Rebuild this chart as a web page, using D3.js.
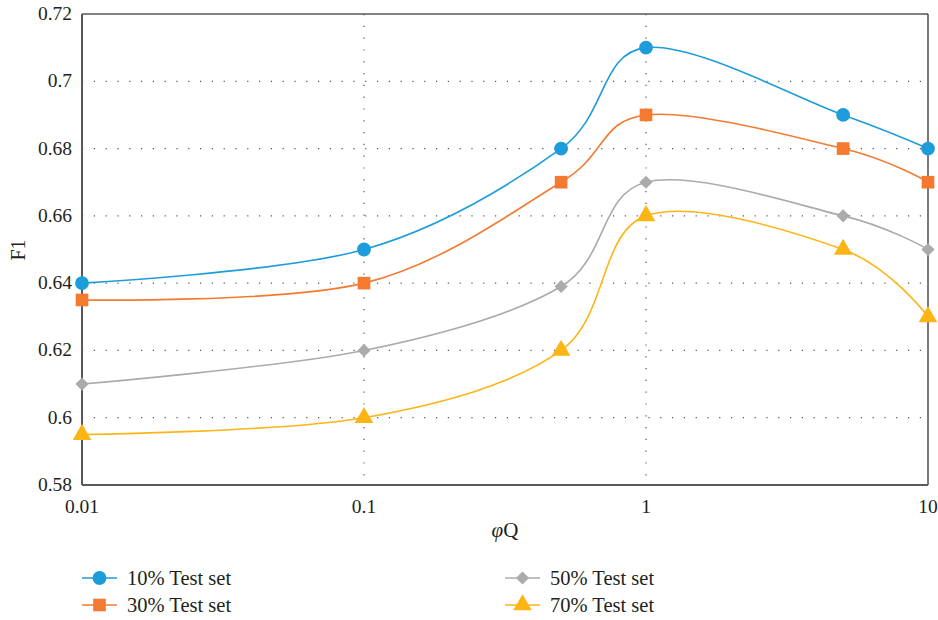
<!DOCTYPE html>
<html lang="en">
<head>
  <meta charset="UTF-8">
  <title>F1 vs φQ</title>
  <script src="https://d3js.org/d3.v7.min.js"></script>
  <style>
    body { margin: 0; background: #fff; }
    text { font-family: "Liberation Serif", "DejaVu Serif", serif; fill: #231f20; }
  </style>
</head>
<body>
  <svg id="chart" width="938" height="620"></svg>

  <script>
    // data
    const xValues = [0.01, 0.1, 0.5, 1, 5, 10];
    const test10 = [0.64, 0.65, 0.68, 0.71, 0.69, 0.68];
    const test30 = [0.635, 0.64, 0.67, 0.69, 0.68, 0.67];
    const test50 = [0.61, 0.62, 0.639, 0.67, 0.66, 0.65];
    const test70 = [0.595, 0.6, 0.62, 0.66, 0.65, 0.63];
    const seriesNames = ["10% Test set", "30% Test set", "50% Test set", "70% Test set"];
    const xTicks = [0.01, 0.1, 1, 10];
    const yTicks = [0.58, 0.6, 0.62, 0.64, 0.66, 0.68, 0.7, 0.72];

    const series = [
      { name: seriesNames[0], values: test10, color: "#1c9cdb", shape: "circle" },
      { name: seriesNames[1], values: test30, color: "#f47a30", shape: "square" },
      { name: seriesNames[2], values: test50, color: "#aaabad", shape: "diamond" },
      { name: seriesNames[3], values: test70, color: "#fdb515", shape: "triangle" }
    ];

    const svg = d3.select("#chart");
    const pLeft = 82, pRight = 928, pTop = 14, pBottom = 485;

    const x = d3.scaleLog().domain([0.01, 10]).range([pLeft, pRight]);
    const y = d3.scaleLinear().domain([0.58, 0.72]).range([pBottom, pTop]);

    // dotted grid
    const grid = svg.append("g");
    grid.selectAll("line.h")
      .data(yTicks.slice(1, -1))
      .join("line")
        .attr("class", "h")
        .attr("x1", pLeft).attr("x2", pRight)
        .attr("y1", d => y(d)).attr("y2", d => y(d))
        .attr("stroke", "#555")
        .attr("stroke-width", 1.2)
        .attr("stroke-dasharray", "1.2,10.6");
    grid.selectAll("line.v")
      .data(xTicks.slice(1, -1))
      .join("line")
        .attr("class", "v")
        .attr("x1", d => x(d)).attr("x2", d => x(d))
        .attr("y1", pTop).attr("y2", pBottom)
        .attr("stroke", "#555")
        .attr("stroke-width", 1.2)
        .attr("stroke-dasharray", "1.2,10.6");

    // frame
    svg.append("line").attr("x1", pLeft).attr("x2", pRight).attr("y1", pTop).attr("y2", pTop)
      .attr("stroke", "#595959").attr("stroke-width", 1.5);
    svg.append("line").attr("x1", pRight).attr("x2", pRight).attr("y1", pTop).attr("y2", pBottom)
      .attr("stroke", "#222").attr("stroke-width", 1.2);
    svg.append("line").attr("x1", pLeft).attr("x2", pLeft).attr("y1", pTop).attr("y2", pBottom)
      .attr("stroke", "#595959").attr("stroke-width", 2);
    svg.append("line").attr("x1", pLeft).attr("x2", pRight).attr("y1", pBottom).attr("y2", pBottom)
      .attr("stroke", "#595959").attr("stroke-width", 2);

    // tick labels
    svg.append("g").selectAll("text")
      .data(yTicks)
      .join("text")
        .attr("x", 72)
        .attr("y", d => y(d) + 6)
        .attr("text-anchor", "end")
        .style("font-size", "19.5px")
        .text(d => d3.format("")(d));
    svg.append("g").selectAll("text")
      .data(xTicks)
      .join("text")
        .attr("x", d => x(d))
        .attr("y", 513)
        .attr("text-anchor", "middle")
        .style("font-size", "19.5px")
        .text(d => d3.format("")(d));

    // axis titles
    const xt = svg.append("text")
      .attr("x", 505).attr("y", 537)
      .attr("text-anchor", "middle")
      .style("font-size", "21px");
    xt.append("tspan").style("font-style", "italic").text("φ");
    xt.append("tspan").text("Q");

    svg.append("text")
      .attr("transform", "translate(25,250) rotate(-90)")
      .attr("text-anchor", "middle")
      .style("font-size", "20px")
      .text("F1");

    // markers
    const symbols = {
      circle: d3.symbol().type(d3.symbolCircle).size(150),
      square: d3.symbol().type(d3.symbolSquare).size(160),
      diamond: d3.symbol().type(d3.symbolDiamond2).size(110),
      triangle: d3.symbol().type(d3.symbolTriangle).size(150)
    };

    const line = d3.line()
      .x((d, i) => x(xValues[i]))
      .y(d => y(d))
      .curve(d3.curveCardinal.tension(0));

    const sg = svg.append("g").selectAll("g")
      .data(series)
      .join("g");

    sg.append("path")
      .attr("d", d => line(d.values))
      .attr("fill", "none")
      .attr("stroke", d => d.color)
      .attr("stroke-width", 1.6);

    sg.each(function(s) {
      d3.select(this).selectAll("path.m")
        .data(s.values)
        .join("path")
          .attr("class", "m")
          .attr("transform", (d, i) => `translate(${x(xValues[i])},${y(d)})`)
          .attr("d", symbols[s.shape])
          .attr("fill", s.color);
    });

    // legend
    const legendPos = [[82, 578], [82, 605], [505, 578], [505, 605]];
    const lg = svg.append("g").selectAll("g")
      .data(series)
      .join("g")
        .attr("transform", (d, i) => `translate(${legendPos[i][0]},${legendPos[i][1]})`);
    lg.append("line")
      .attr("x1", 0).attr("x2", 35)
      .attr("stroke", d => d.color)
      .attr("stroke-width", 1.6);
    lg.append("path")
      .attr("transform", "translate(17.5,0)")
      .attr("d", d => symbols[d.shape]())
      .attr("fill", d => d.color);
    lg.append("text")
      .attr("x", 45).attr("y", 6.5)
      .style("font-size", "20.5px")
      .text(d => d.name);
  </script>
</body>
</html>
